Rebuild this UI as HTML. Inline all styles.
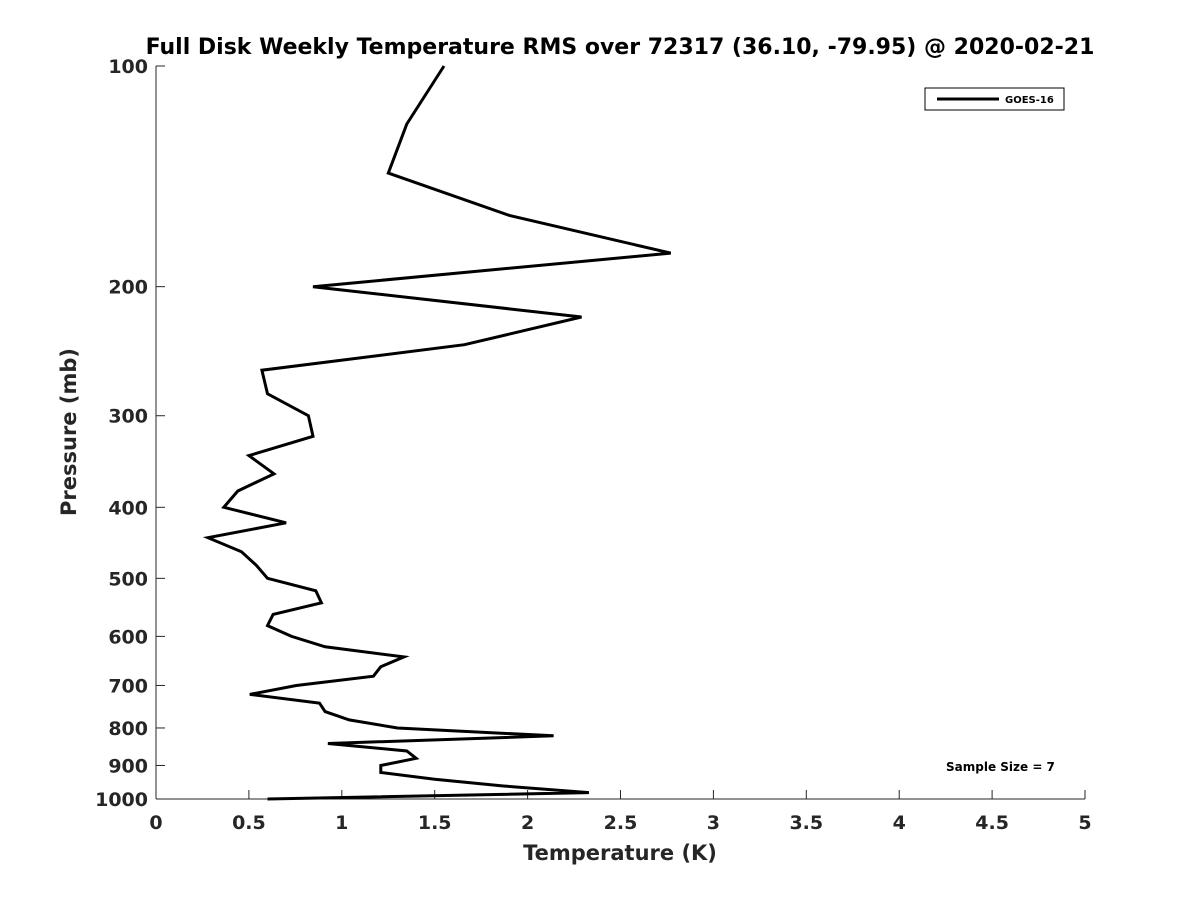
<!DOCTYPE html>
<html><head><meta charset="utf-8"><style>
body{margin:0;background:#fff;}
svg{display:block;font-family:"DejaVu Sans","Liberation Sans",sans-serif;}
</style></head><body>
<svg id="chart" width="1200" height="900" viewBox="0 0 1200 900">
<rect width="1200" height="900" fill="#fff"/>
<text x="620" y="54" text-anchor="middle" font-size="22" font-weight="bold" fill="#000">Full Disk Weekly Temperature RMS over 72317 (36.10, -79.95) @ 2020-02-21</text>
<g id="axes"></g>
<g id="series"></g>
<g>
<rect x="925" y="88" width="139" height="22" fill="#fff" stroke="#000" stroke-width="1"/>
<line x1="937" y1="99" x2="999" y2="99" stroke="#000" stroke-width="3"/>
<text x="1005" y="103" font-size="10" font-weight="bold" fill="#000">GOES-16</text>
</g>
<text x="946" y="771" font-size="12" font-weight="bold" fill="#000">Sample Size = 7</text>
<text x="620" y="860" text-anchor="middle" font-size="21" font-weight="bold" fill="#262626">Temperature (K)</text>
<text transform="translate(76,432) rotate(-90)" text-anchor="middle" font-size="21" font-weight="bold" fill="#262626">Pressure (mb)</text>
</svg>
<script>
const pressures=[100,120,140,160,180,200,220,240,260,280,300,320,340,360,380,400,420,440,460,480,500,520,540,560,580,600,620,640,660,680,700,720,740,760,780,800,820,840,860,880,900,920,940,960,980,1000];
const rmsValues=[1.55,1.35,1.25,1.905,2.77,0.845,2.29,1.66,0.57,0.6,0.82,0.845,0.5,0.635,0.44,0.365,0.7,0.28,0.46,0.54,0.6,0.86,0.89,0.63,0.6,0.73,0.91,1.335,1.21,1.17,0.755,0.505,0.88,0.91,1.04,1.3,2.14,0.925,1.35,1.4,1.21,1.21,1.5,1.87,2.33,0.6];
const xTicks=[0,0.5,1,1.5,2,2.5,3,3.5,4,4.5,5];
const yTicks=[100,200,300,400,500,600,700,800,900,1000];
const X0=156,X1=1085,Y0=66,Y1=799;
const xs=v=>X0+(v-0)/5*(X1-X0);
const ys=p=>Y0+Math.log10(p/100)*(Y1-Y0);
const NS="http://www.w3.org/2000/svg";
const axes=document.getElementById('axes');
function mk(t,a,parent){const e=document.createElementNS(NS,t);for(const k in a)e.setAttribute(k,a[k]);parent.appendChild(e);return e;}
const xa=mk('line',{x1:X0,y1:Y1,x2:X1,y2:Y1,stroke:'#262626','stroke-width':1},axes);


const ya=mk('line',{x1:X0,y1:Y0,x2:X0,y2:Y1,stroke:'#262626','stroke-width':1},axes);


xTicks.forEach(v=>{
 mk('line',{x1:xs(v),y1:Y1,x2:xs(v),y2:Y1-9,stroke:'#262626'},axes);
 const t=mk('text',{x:xs(v),y:Y1+30,'text-anchor':'middle','font-size':19,'font-weight':'bold',fill:'#262626'},axes);
 t.textContent=v;
 
 
});
yTicks.forEach(p=>{
 mk('line',{x1:X0,y1:ys(p),x2:X0+9,y2:ys(p),stroke:'#262626'},axes);
 const t=mk('text',{x:X0-8,y:ys(p)+7,'text-anchor':'end','font-size':19,'font-weight':'bold',fill:'#262626'},axes);
 t.textContent=p;
 
 
});
const pts=pressures.map((p,i)=>xs(rmsValues[i]).toFixed(1)+','+ys(p).toFixed(1)).join(' ');
const line=mk('polyline',{points:pts,fill:'none',stroke:'#000','stroke-width':3,'stroke-linejoin':'miter'},document.getElementById('series'));


</script>
</body></html>
